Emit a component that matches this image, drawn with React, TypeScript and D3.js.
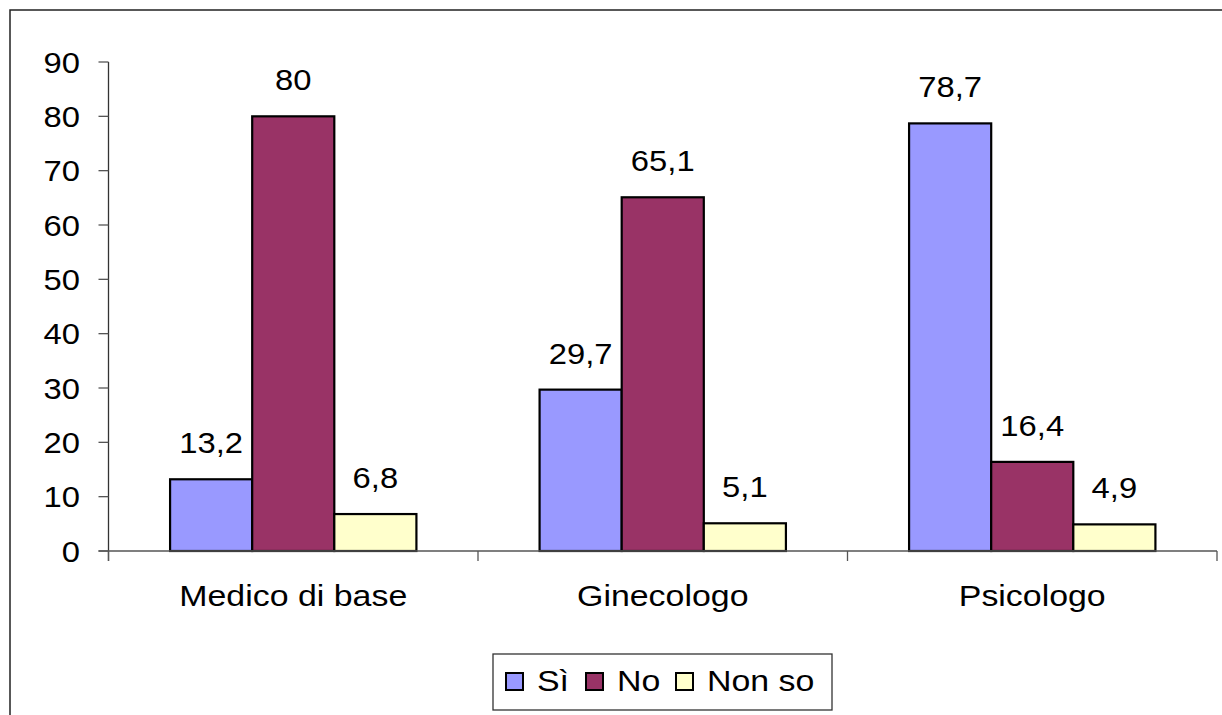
import React from "react";
import * as d3 from "d3";

const categories = ["Medico di base", "Ginecologo", "Psicologo"];
const seriesNames = ["Sì", "No", "Non so"];
const siValues = [13.2, 29.7, 78.7];
const noValues = [80, 65.1, 16.4];
const nonSoValues = [6.8, 5.1, 4.9];
const yTicks = [0, 10, 20, 30, 40, 50, 60, 70, 80, 90];
const colors = ["#9999FF", "#993366", "#FFFFCC"];

const seriesValues = [siValues, noValues, nonSoValues];

const SX = 1.13;

function T({ x, y, anchor = "start", size = 29, children }: { x: number; y: number; anchor?: string; size?: number; children: React.ReactNode }) {
  return (
    <text transform={`translate(${x},${y}) scale(${SX},1)`} textAnchor={anchor} fontSize={size} fill="#000">
      {children}
    </text>
  );
}

export default function App() {
  const W = 1222, H = 715;
  const x0 = 108.5, x1 = 1217, yBottom = 551, yTop = 62;
  const y = d3.scaleLinear().domain([0, 90]).range([yBottom, yTop]);
  const xCat = d3.scaleBand().domain(categories).range([x0, x1]).paddingInner(0).paddingOuter(0);
  const xSer = d3.scaleBand().domain(seriesNames).range([0, xCat.bandwidth()]).paddingInner(0).paddingOuter(0.75);
  const font = "'Liberation Sans', Arial, sans-serif";
  const fmt = (v: number) => String(v).replace(".", ",");

  return (
    <svg width={W} height={H} style={{ position: "absolute", left: 0, top: 0, background: "#fff" }} fontFamily={font}>
      <rect x={10} y={10} width={1240} height={740} fill="#fff" stroke="#222" strokeWidth={1.5} />
      {/* y axis */}
      <line x1={x0} x2={x0} y1={yTop} y2={yBottom + 10} stroke="#333" strokeWidth={1.3} />
      {yTicks.map((t) => (
        <g key={t}>
          <line x1={x0 - 10} x2={x0} y1={y(t)} y2={y(t)} stroke="#555" strokeWidth={1.3} />
          <T x={80} y={y(t) + 10.5} anchor="end" size={29}>{t}</T>
        </g>
      ))}
      {/* bars */}
      {categories.map((c, ci) => (
        <g key={c}>
          {seriesNames.map((s, si) => {
            const v = seriesValues[si][ci];
            const bx = (xCat(c) as number) + (xSer(s) as number);
            return (
              <g key={s}>
                <rect x={bx} y={y(v)} width={xSer.bandwidth()} height={yBottom - y(v)} fill={colors[si]} stroke="#000" strokeWidth={2.2} />
                <T x={bx + xSer.bandwidth() / 2} y={y(v) - 26} anchor="middle" size={29}>{fmt(v)}</T>
              </g>
            );
          })}
        </g>
      ))}
      {/* x axis */}
      <line x1={x0 - 10} x2={x1} y1={yBottom} y2={yBottom} stroke="#555" strokeWidth={1.3} />
      {[...categories.map((c) => xCat(c) as number), x1].map((px, i) => (
        <line key={i} x1={px} x2={px} y1={yBottom} y2={yBottom + 10} stroke="#555" strokeWidth={1.3} />
      ))}
      {categories.map((c) => (
        <T key={c} x={(xCat(c) as number) + xCat.bandwidth() / 2} y={606} anchor="middle" size={30}>{c}</T>
      ))}
      {/* legend */}
      <rect x={493} y={654} width={339} height={56} fill="#fff" stroke="#333" strokeWidth={1.3} />
      {seriesNames.map((s, i) => {
        const sx = [506, 586, 676][i];
        return (
          <g key={s}>
            <rect x={sx} y={673} width={17} height={17} fill={colors[i]} stroke="#000" strokeWidth={2} />
            <T x={sx + 31} y={691} size={30}>{s}</T>
          </g>
        );
      })}
    </svg>
  );
}
